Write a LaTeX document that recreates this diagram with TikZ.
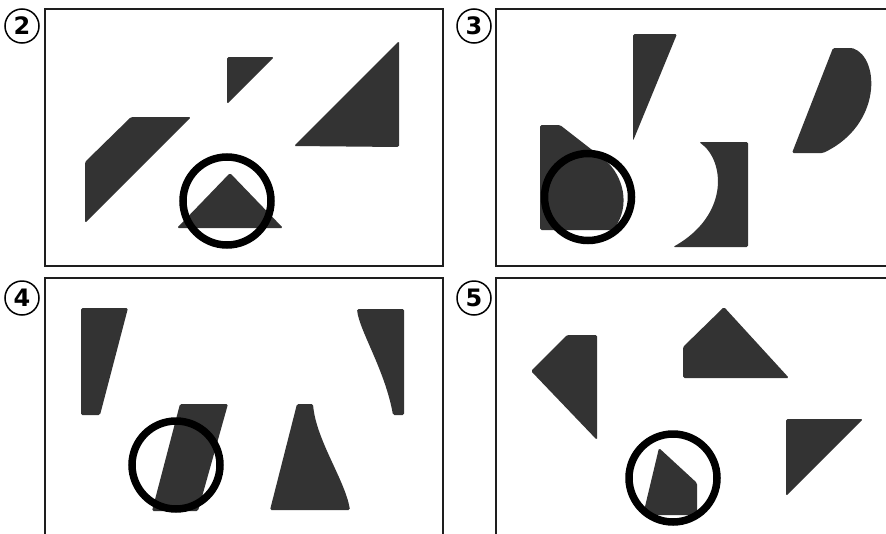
\documentclass[tikz,border=0pt]{standalone}
\usepackage{fontspec}
\usepackage{xcolor}
\usepackage{tikz}
\newfontfamily\numfont{DejaVu Sans}
\definecolor{piecegray}{HTML}{333333}
\definecolor{framegray}{HTML}{1E1E1E}

\begin{document}
\begin{tikzpicture}[x=1pt, y=-1pt,
        panel/.style={draw=framegray, line width=1.6pt},
        piece/.style={fill=piecegray, rounded corners=1.5pt},
        ring/.style={draw=black, line width=7.5pt},
        numlabel/.style={circle, draw, line width=1.5pt, minimum size=34pt, inner sep=0pt,
                         font=\numfont\bfseries\fontsize{24}{24}\selectfont}]
        \clip (0,0) rectangle (886,533);
        \fill[white] (0,0) rectangle (886,533);

        \draw[panel] (45,9) rectangle (443,266);
        \draw[panel] (496,9) rectangle (894,266);
        \draw[panel] (45,278) rectangle (443,540);
        \draw[panel] (496,278) rectangle (894,540);

        \node[numlabel] (lbl2) at (22,26)  {2};
        \node[numlabel] (lbl3) at (474,26) {3};
        \node[numlabel] (lbl4) at (22,298) {4};
        \node[numlabel] (lbl5) at (474,298) {5};

        \fill[piece] (227,57) -- (274,57) -- (227,104) -- cycle;
        \fill[piece] (399,41) -- (399,147) -- (294,146) -- cycle;
        \fill[piece] (131,117) -- (191,117) -- (85,223) -- (85,162) -- cycle;
        \fill[piece] (230,173) -- (283,228) -- (177,228) -- cycle;
        \draw[ring] (227,201) circle (44);

        \fill[piece] (633,34) -- (677,34) -- (633,141) -- cycle;
        \fill[piece] (792,153) -- (833,48) -- (852,48) .. controls (880,58) and (882,125) .. (823,153) -- cycle;
        \fill[piece] (673,247) .. controls (730,215) and (725,160) .. (699,142) -- (748,142) -- (748,247) -- cycle;
        \fill[piece] (540,230) -- (540,125) -- (560,125) -- (605,160) .. controls (622,175) and (632,205) .. (613,230) -- cycle;
        \draw[ring] (588,197) circle (43.5);

        \fill[piece] (81,308) -- (128,308) -- (100,415) -- (81,415) -- cycle;
        \fill[piece] (404,415) -- (393,415) .. controls (385,370) and (359,330) .. (357,309) -- (404,309) -- cycle;
        \fill[piece] (180,404) -- (228,404) -- (198,511) -- (152,511) -- cycle;
        \draw[ring] (176,465) circle (44);
        \fill[piece] (270,510) -- (297,404) -- (313,404) .. controls (316,440) and (345,480) .. (350,510) -- cycle;

        \fill[piece] (531,371) -- (567,335) -- (597,335) -- (597,440) -- cycle;
        \fill[piece] (683,347) -- (724,307) -- (789,378) -- (683,378) -- cycle;
        \fill[piece] (786,419) -- (863,419) -- (786,496) -- cycle;
        \fill[piece] (659,448) -- (697,483) -- (697,515) -- (643,515) -- cycle;
        \draw[ring] (673,478) circle (44);
\end{tikzpicture}
\end{document}
